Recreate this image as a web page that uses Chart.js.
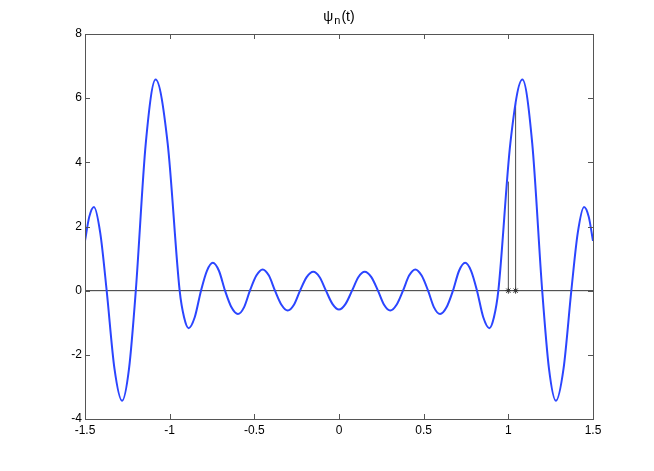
<!DOCTYPE html>
<html>
<head>
<meta charset="utf-8">
<script src="https://cdn.jsdelivr.net/npm/chart.js@4"></script>
<style>
  body { margin: 0; background: #fff; }
  canvas { display: block; }
</style>
</head>
<body>
<canvas id="psiChart" width="654" height="471"></canvas>
<script>
// values
const tValues = [
  -1.500, -1.475, -1.447, -1.410, -1.372, -1.326, -1.281, -1.240, -1.200,
  -1.141, -1.083, -1.012, -0.941, -0.915, -0.888, -0.852, -0.815, -0.780,
  -0.745, -0.709, -0.673, -0.635, -0.597, -0.561, -0.526, -0.488, -0.451,
  -0.414, -0.378, -0.340, -0.303, -0.266, -0.230, -0.191, -0.152, -0.114,
  -0.077, -0.038, 0.000,
  0.038, 0.077, 0.114, 0.152, 0.191, 0.230, 0.266, 0.303, 0.340,
  0.378, 0.414, 0.451, 0.488, 0.526, 0.561, 0.597, 0.635, 0.673,
  0.709, 0.745, 0.780, 0.815, 0.852, 0.888, 0.915, 0.941, 1.012,
  1.083, 1.141, 1.200, 1.240, 1.281, 1.326, 1.372, 1.410, 1.447,
  1.475, 1.500
];
const psiValues = [
  1.55, 2.30, 2.61, 1.80, 0, -2.43, -3.43, -2.43, 0,
  4.60, 6.58, 4.60, 0, -0.83, -1.17, -0.83, 0, 0.62,
  0.87, 0.62, 0, -0.52, -0.73, -0.52, 0, 0.47, 0.66,
  0.47, 0, -0.44, -0.62, -0.44, 0, 0.42, 0.59, 0.42,
  0, -0.42, -0.59,
  -0.42, 0, 0.42, 0.59, 0.42, 0, -0.44, -0.62, -0.44,
  0, 0.47, 0.66, 0.47, 0, -0.52, -0.73, -0.52, 0,
  0.62, 0.87, 0.62, 0, -0.83, -1.17, -0.83, 0, 4.60,
  6.58, 4.60, 0, -2.43, -3.43, -2.43, 0, 1.80, 2.61,
  2.30, 1.55
];
const stemT = [1.0, 1.043];
const stemPsi = [3.4, 5.85];

const xTicks = [-1.5, -1, -0.5, 0, 0.5, 1, 1.5];
const xTickLabels = ['-1.5', '-1', '-0.5', '0', '0.5', '1', '1.5'];
const yTicks = [-4, -2, 0, 2, 4, 6, 8];
const yTickLabels = ['-4', '-2', '0', '2', '4', '6', '8'];

const fontFamily = '"Liberation Sans", Arial, Helvetica, sans-serif';

const curvePoints = tValues.map((t, i) => ({ x: t, y: psiValues[i] }));

const stemDatasets = stemT.map((t, i) => ({
  data: [{ x: t, y: 0 }, { x: t, y: stemPsi[i] }],
  showLine: true,
  borderColor: '#4a4a4a',
  borderWidth: 1,
  pointStyle: 'star',
  pointRadius: [3, 0],
  pointBorderColor: '#333',
  pointBorderWidth: 1,
  order: 1
}));

// box, inward ticks and title like a MATLAB figure
const framePlugin = {
  id: 'frame',
  afterDraw(chart) {
    const { ctx, chartArea: area, scales } = chart;
    ctx.save();
    ctx.strokeStyle = '#555';
    ctx.lineWidth = 1;
    ctx.beginPath();
    xTicks.forEach((v) => {
      const px = Math.round(scales.x.getPixelForValue(v)) + 0.5;
      ctx.moveTo(px, area.bottom);
      ctx.lineTo(px, area.bottom - 5);
      ctx.moveTo(px, area.top);
      ctx.lineTo(px, area.top + 5);
    });
    yTicks.forEach((v) => {
      const py = Math.round(scales.y.getPixelForValue(v)) + 0.5;
      ctx.moveTo(area.left, py);
      ctx.lineTo(area.left + 5, py);
      ctx.moveTo(area.right, py);
      ctx.lineTo(area.right - 5, py);
    });
    ctx.stroke();
    ctx.strokeRect(Math.round(area.left) + 0.5, Math.round(area.top) + 0.5,
      Math.round(area.right - area.left), Math.round(area.bottom - area.top));

    // title psi_n(t)
    ctx.fillStyle = '#000';
    ctx.textBaseline = 'alphabetic';
    const big = '14px ' + fontFamily;
    const small = '11px ' + fontFamily;
    ctx.font = big;
    const wPsi = ctx.measureText('ψ').width;
    const wParen = ctx.measureText('(t)').width;
    ctx.font = small;
    const wN = ctx.measureText('n').width;
    const gap = 1;
    const cx = (area.left + area.right) / 2;
    let x = cx - (wPsi + wN + wParen + 2 * gap) / 2;
    const base = 21;
    ctx.font = big;
    ctx.fillText('ψ', x, base);
    x += wPsi + gap;
    ctx.font = small;
    ctx.fillText('n', x, base + 3);
    x += wN + gap;
    ctx.font = big;
    ctx.fillText('(t)', x, base);
    ctx.restore();
  }
};

new Chart(document.getElementById('psiChart'), {
  type: 'scatter',
  data: {
    datasets: [
      {
        data: curvePoints,
        showLine: true,
        borderColor: '#2b45ff',
        borderWidth: 2,
        pointRadius: 0,
        cubicInterpolationMode: 'monotone',
        order: 0
      },
      {
        data: [{ x: -1.5, y: 0 }, { x: 1.5, y: 0 }],
        showLine: true,
        borderColor: '#333',
        borderWidth: 1,
        pointRadius: 0,
        order: 2
      },
      ...stemDatasets
    ]
  },
  options: {
    responsive: false,
    animation: false,
    layout: { padding: { top: 34, right: 61, left: 0, bottom: 0 } },
    plugins: {
      legend: { display: false },
      tooltip: { enabled: false }
    },
    scales: {
      x: {
        type: 'linear',
        min: -1.5,
        max: 1.5,
        afterFit: (scale) => { scale.height = 52; },
        afterBuildTicks: (scale) => { scale.ticks = xTicks.map((v) => ({ value: v })); },
        grid: { display: false, drawTicks: false },
        border: { display: false },
        ticks: {
          padding: 4,
          color: '#000',
          font: { family: fontFamily, size: 12 },
          maxRotation: 0,
          autoSkip: false,
          callback: (v) => xTickLabels[xTicks.indexOf(v)]
        }
      },
      y: {
        type: 'linear',
        min: -4,
        max: 8,
        afterFit: (scale) => { scale.width = 85; },
        afterBuildTicks: (scale) => { scale.ticks = yTicks.map((v) => ({ value: v })); },
        grid: { display: false, drawTicks: false },
        border: { display: false },
        ticks: {
          padding: 3,
          color: '#000',
          font: { family: fontFamily, size: 12 },
          autoSkip: false,
          callback: (v) => yTickLabels[yTicks.indexOf(v)]
        }
      }
    }
  },
  plugins: [framePlugin]
});
</script>
</body>
</html>
